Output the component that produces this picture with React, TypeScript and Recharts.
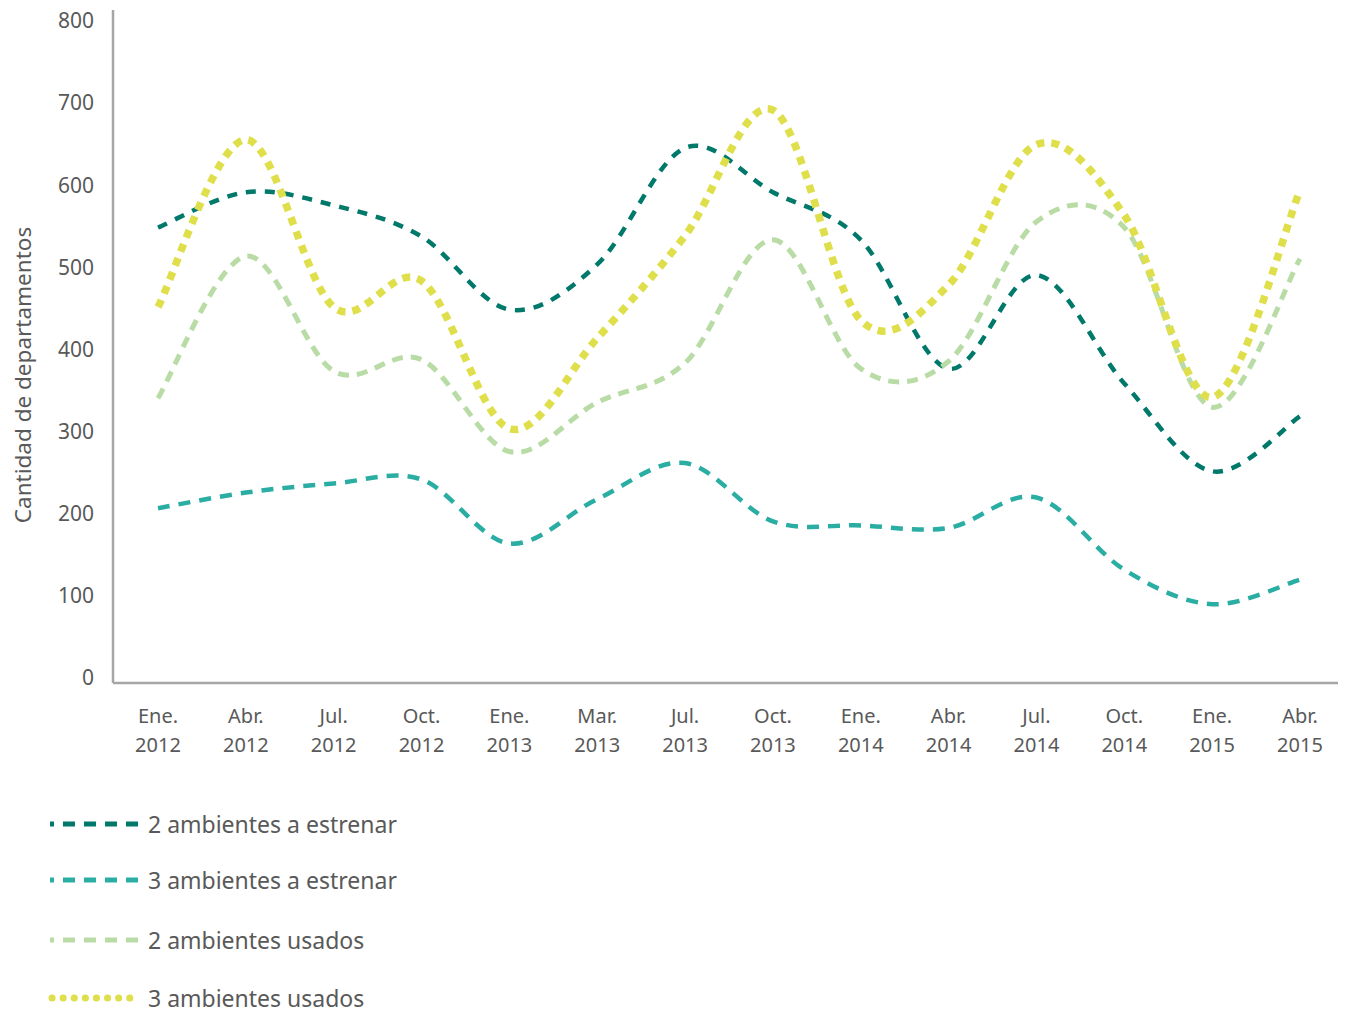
import React from "react";
import { LineChart, Line, XAxis, YAxis } from "recharts";

const categories = [
  "Ene. 2012", "Abr. 2012", "Jul. 2012", "Oct. 2012", "Ene. 2013", "Mar. 2013", "Jul. 2013",
  "Oct. 2013", "Ene. 2014", "Abr. 2014", "Jul. 2014", "Oct. 2014", "Ene. 2015", "Abr. 2015",
];

const dosEstrenar = [555, 598, 582, 544, 455, 510, 652, 598, 540, 383, 497, 365, 258, 325];
const tresEstrenar = [213, 232, 243, 248, 170, 224, 268, 197, 192, 189, 226, 138, 96, 126];
const dosUsados = [347, 520, 380, 394, 282, 342, 390, 540, 383, 392, 562, 555, 336, 517];
const tresUsados = [458, 662, 458, 490, 310, 420, 545, 698, 442, 485, 656, 570, 348, 600];

const yTicks = [0, 100, 200, 300, 400, 500, 600, 700, 800];

const data = categories.map((c, i) => ({
  cat: c,
  dosEstrenar: dosEstrenar[i],
  tresEstrenar: tresEstrenar[i],
  dosUsados: dosUsados[i],
  tresUsados: tresUsados[i],
}));

const series = [
  { key: "dosEstrenar", name: "2 ambientes a estrenar", color: "#00796B", width: 4.5, dash: "10 9" },
  { key: "tresEstrenar", name: "3 ambientes a estrenar", color: "#2AADA2", width: 4.5, dash: "12 9" },
  { key: "dosUsados", name: "2 ambientes usados", color: "#B9DCA6", width: 5, dash: "11 8" },
  { key: "tresUsados", name: "3 ambientes usados", color: "#DEDF4B", width: 7.5, dash: "8 7" },
];

const FONT = "'Noto Sans', sans-serif";
const GREY = "#595959";

// suavizado tipo Excel (Catmull-Rom)
const smooth: any = (context: any) => {
  let pts: number[][] = [];
  return {
    areaStart() {},
    areaEnd() {},
    lineStart() {
      pts = [];
    },
    point(x: number, y: number) {
      pts.push([+x, +y]);
    },
    lineEnd() {
      if (!pts.length) return;
      context.moveTo(pts[0][0], pts[0][1]);
      for (let i = 0; i < pts.length - 1; i++) {
        const p0 = pts[i - 1] || pts[i];
        const p1 = pts[i];
        const p2 = pts[i + 1];
        const p3 = pts[i + 2] || p2;
        context.bezierCurveTo(
          p1[0] + (p2[0] - p0[0]) / 6,
          p1[1] + (p2[1] - p0[1]) / 6,
          p2[0] - (p3[0] - p1[0]) / 6,
          p2[1] - (p3[1] - p1[1]) / 6,
          p2[0],
          p2[1]
        );
      }
    },
  };
};

const XTick = (props: any) => {
  const { x, y, payload } = props;
  const [m, yr] = String(payload.value).split(" ");
  return (
    <text x={x} y={y} textAnchor="middle" fill={GREY} fontSize={20} fontFamily={FONT}>
      <tspan x={x} dy={40}>{m}</tspan>
      <tspan x={x} dy={29}>{yr}</tspan>
    </text>
  );
};

const YTick = (props: any) => {
  const { x, y, payload } = props;
  return (
    <text x={x} y={y} dy={2} textAnchor="end" fill={GREY} fontSize={21} fontFamily={FONT}>
      {payload.value}
    </text>
  );
};

function LegendSample({ s }: { s: (typeof series)[number] }) {
  const dotted = s.key === "tresUsados";
  return (
    <svg width={92} height={12} style={{ display: "block" }}>
      <line
        x1={dotted ? 4 : 2}
        y1={6}
        x2={90}
        y2={6}
        stroke={s.color}
        strokeWidth={dotted ? 7 : 5}
        strokeDasharray={dotted ? "0.1 11" : "12 9"}
        strokeDashoffset={dotted ? 0 : 8}
        strokeLinecap={dotted ? "round" : "butt"}
      />
    </svg>
  );
}

export default function App() {
  return (
    <div style={{ position: "relative", width: 1338, height: 1015, marginTop: -8, fontFamily: FONT }}>
      <LineChart
        width={1338}
        height={768}
        data={data}
        margin={{ top: 10, right: 4, left: 0, bottom: 0 }}
      >
        <XAxis
          dataKey="cat"
          interval={0}
          height={85}
          tickLine={false}
          tickSize={0}
          tickMargin={0}
          tick={<XTick />}
          axisLine={{ stroke: "#A6A6A6", strokeWidth: 2.5 }}
          padding={{ left: 45, right: 42 }}
        />
        <YAxis
          width={105}
          domain={[0, 820]}
          ticks={yTicks}
          tickLine={false}
          tickSize={0}
          tickMargin={19}
          tick={<YTick />}
          axisLine={{ stroke: "#A6A6A6", strokeWidth: 2.5 }}
          label={{
            content: () => (
              <text
                x={23}
                y={375}
                transform="rotate(-90 23 375)"
                textAnchor="middle"
                fill={GREY}
                fontSize={22.5}
                fontFamily={FONT}
              >
                Cantidad de departamentos
              </text>
            ),
          }}
        />
        {series.map((s) => (
          <Line
            key={s.key}
            dataKey={s.key}
            name={s.name}
            type={smooth}
            stroke={s.color}
            strokeWidth={s.width}
            strokeDasharray={s.dash}
            dot={false}
            activeDot={false}
            isAnimationActive={false}
          />
        ))}
      </LineChart>
      <div style={{ position: "absolute", left: 40, top: 811 }}>
        {series.map((s, i) => (
          <div
            key={s.key}
            style={{
              position: "absolute",
              top: [0, 56, 116, 174][i],
              display: "flex",
              alignItems: "center",
              whiteSpace: "nowrap",
            }}
          >
            <LegendSample s={s} />
            <span style={{ marginLeft: 8, fontSize: 23, color: GREY, lineHeight: "26px" }}>{s.name}</span>
          </div>
        ))}
      </div>
    </div>
  );
}
